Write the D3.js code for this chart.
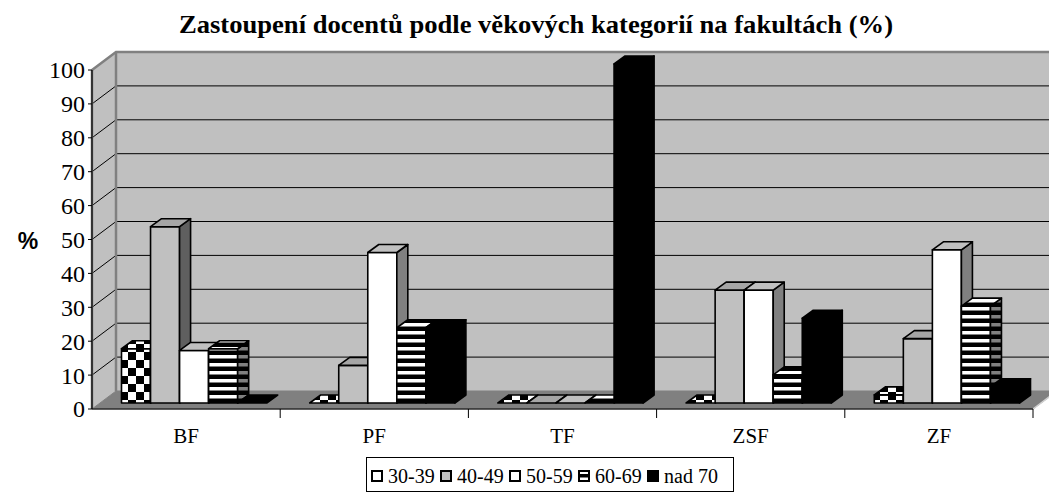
<!DOCTYPE html>
<html><head><meta charset="utf-8">
<script src="https://cdn.jsdelivr.net/npm/d3@7"></script>
<style>body{margin:0;background:#fff}svg{display:block}</style>
</head><body>
<svg id="c" width="1049" height="494"></svg>
<script>
const categories = ["BF","PF","TF","ZSF","ZF"];
const seriesNames = ["30-39","40-49","50-59","60-69","nad 70"];
const s3039 = [16, 0, 0, 0, 2.4];
const s4049 = [52, 11.1, 0, 33.3, 19];
const s5059 = [15.5, 44.4, 0, 33.3, 45.2];
const s6069 = [16, 22.2, 0, 8.3, 28.6];
const s70   = [0, 22.2, 100, 25, 4.8];
const yTicks = [0,10,20,30,40,50,60,70,80,90,100];
const titleText = "Zastoupení docentů podle věkových kategorií na fakultách (%)";

const series = [s3039, s4049, s5059, s6069, s70];
const svg = d3.select("#c");
const serif = "'Liberation Serif','Times New Roman',serif";

// geometry
const X0 = 92, X1 = 1033, DX = 24, DY = 18;
const y = d3.scaleLinear().domain([0,100]).range([409,70]);
const xc = d3.scaleBand().domain(categories).range([X0, X1]).padding(0);
const xs = d3.scaleBand().domain(seriesNames).range([21.5, xc.bandwidth()-21.5]).padding(0);
const bfx = 8, bfy = 6;   // bar front plane offset
const bdx = 11, bdy = 8;  // bar depth

// patterns
const defs = svg.append("defs");
const chk = defs.append("pattern").attr("id","chk").attr("patternUnits","userSpaceOnUse").attr("width",16).attr("height",16);
chk.append("rect").attr("width",16).attr("height",16).attr("fill","#fff");
chk.append("rect").attr("width",8).attr("height",8).attr("fill","#000");
chk.append("rect").attr("x",8).attr("y",8).attr("width",8).attr("height",8).attr("fill","#000");
const str = defs.append("pattern").attr("id","str").attr("patternUnits","userSpaceOnUse").attr("width",8).attr("height",8).attr("y",1);
str.append("rect").attr("width",8).attr("height",8).attr("fill","#000");
str.append("rect").attr("y",2).attr("width",8).attr("height",3.5).attr("fill","#fff");
const strS = defs.append("pattern").attr("id","strS").attr("patternUnits","userSpaceOnUse").attr("width",8).attr("height",8).attr("y",1);
strS.append("rect").attr("width",8).attr("height",8).attr("fill","#000");
strS.append("rect").attr("y",2).attr("width",8).attr("height",3.5).attr("fill","#808080");

const styles = [
  {front:"url(#chk)", top:"url(#chk)", side:"url(#chk)"},
  {front:"#c0c0c0", top:"#a6a6a6", side:"#5f5f5f"},
  {front:"#ffffff", top:"#c0c0c0", side:"#808080"},
  {front:"url(#str)", top:"url(#str)", side:"url(#strS)"},
  {front:"#000000", top:"#000000", side:"#000000"}
];

// walls
const line = d3.line();
svg.append("path").attr("d", line([[X0,409],[X0,70],[X0+DX,70-DY],[X0+DX,409-DY]])+"Z")
  .attr("fill","#c0c0c0");
svg.append("path").attr("d", line([[X0+DX,70-DY],[X1+DX,70-DY],[X1+DX,409-DY],[X0+DX,409-DY]])+"Z")
  .attr("fill","#c0c0c0");
// grid lines
yTicks.filter(t=>t>0 && t<100).forEach(t=>{
  svg.append("line").attr("x1",X0).attr("y1",y(t)).attr("x2",X0+DX).attr("y2",y(t)-DY)
    .attr("stroke","#000").attr("stroke-width",1);
  svg.append("line").attr("x1",X0+DX).attr("y1",y(t)-DY).attr("x2",X1+DX).attr("y2",y(t)-DY)
    .attr("stroke","#000").attr("stroke-width",1);
});
// wall borders
svg.append("path").attr("d", line([[X0,70],[X0+DX,70-DY],[X1+DX,70-DY]]))
  .attr("fill","none").attr("stroke","#808080").attr("stroke-width",2.5);
svg.append("line").attr("x1",X0+DX).attr("y1",70-DY).attr("x2",X0+DX).attr("y2",409-DY)
  .attr("stroke","#808080").attr("stroke-width",2.5);
svg.append("line").attr("x1",X0).attr("y1",70).attr("x2",X0).attr("y2",409)
  .attr("stroke","#808080").attr("stroke-width",2.5);
// floor
svg.append("path").attr("d", line([[X0,409],[X1,409],[X1+DX,409-DY],[X0+DX,409-DY]])+"Z")
  .attr("fill","#808080").attr("stroke","#808080").attr("stroke-width",1);
svg.append("line").attr("x1",X1).attr("y1",409).attr("x2",X1+DX).attr("y2",409-DY)
  .attr("stroke","#d0d0d0").attr("stroke-width",1.5);

// bars
categories.forEach((cat,ci)=>{
  series.forEach((arr,si)=>{
    const v = arr[ci];
    const st = styles[si];
    const x = xc(cat) + xs(seriesNames[si]) + bfx;
    const w = xs.bandwidth();
    const yb = y(0) - bfy, yt = y(v) - bfy;
    const g = svg.append("g").attr("stroke","#000").attr("stroke-width",1.6).attr("stroke-linejoin","round");
    if (yb - yt > 0.5) {
      g.append("rect").attr("x",x).attr("y",yt).attr("width",w).attr("height",yb-yt).attr("fill",st.front);
      g.append("path").attr("d", line([[x+w,yt],[x+w+bdx,yt-bdy],[x+w+bdx,yb-bdy],[x+w,yb]])+"Z").attr("fill",st.side);
    }
    g.append("path").attr("d", line([[x,yt],[x+w,yt],[x+w+bdx,yt-bdy],[x+bdx,yt-bdy]])+"Z").attr("fill",st.top);
  });
});

// axes
svg.append("line").attr("x1",X0).attr("y1",409).attr("x2",X1).attr("y2",409).attr("stroke","#000").attr("stroke-width",1.2);
svg.append("line").attr("x1",X0).attr("y1",70).attr("x2",X0).attr("y2",409).attr("stroke","#000").attr("stroke-width",1.2);
yTicks.forEach(t=>{
  svg.append("line").attr("x1",X0-4).attr("x2",X0).attr("y1",y(t)).attr("y2",y(t)).attr("stroke","#000");
  svg.append("text").attr("x",85).attr("y",y(t)).attr("dy","0.35em").attr("text-anchor","end")
    .attr("font-family",serif).attr("font-size",24).text(t);
});
categories.forEach((c,i)=>{
  svg.append("line").attr("x1",xc(c)+xc.bandwidth()).attr("x2",xc(c)+xc.bandwidth()).attr("y1",409).attr("y2",418).attr("stroke","#000");
  svg.append("text").attr("x",xc(c)+xc.bandwidth()/2).attr("y",443).attr("text-anchor","middle")
    .attr("font-family",serif).attr("font-size",21).text(c);
});

// title & axis label
svg.append("text").attr("x",536).attr("y",33).attr("text-anchor","middle")
  .attr("font-family",serif).attr("font-weight","bold").attr("font-size",25)
  .attr("textLength",714).attr("lengthAdjust","spacingAndGlyphs").text(titleText);
svg.append("text").attr("x",28).attr("y",241).attr("dy","0.35em").attr("text-anchor","middle")
  .attr("font-family","'Liberation Sans',Arial,sans-serif").attr("font-weight","bold").attr("font-size",23).text("%");

// legend
const lg = svg.append("g");
lg.append("rect").attr("x",366.5).attr("y",457.5).attr("width",367).attr("height",34).attr("fill","#fff").attr("stroke","#000");
const itemX = [372, 441, 510, 579, 648];
const legFill = ["#fff","#c0c0c0","#fff","#fff","#000"];
seriesNames.forEach((s,i)=>{
  const ix = itemX[i];
  lg.append("rect").attr("x",ix).attr("y",471).attr("width",10).attr("height",10).attr("fill",legFill[i]).attr("stroke","#000").attr("stroke-width",2);
  if (i===3) {
    lg.append("rect").attr("x",ix).attr("y",474).attr("width",10).attr("height",3.5).attr("fill","#000");
  }
  if (i===0) {
    lg.append("rect").attr("x",ix+3).attr("y",474).attr("width",4).attr("height",4).attr("fill","#fff");
  }
  lg.append("text").attr("x",ix+16).attr("y",483).attr("font-family",serif).attr("font-size",20).text(s);
});
</script>
</body></html>
